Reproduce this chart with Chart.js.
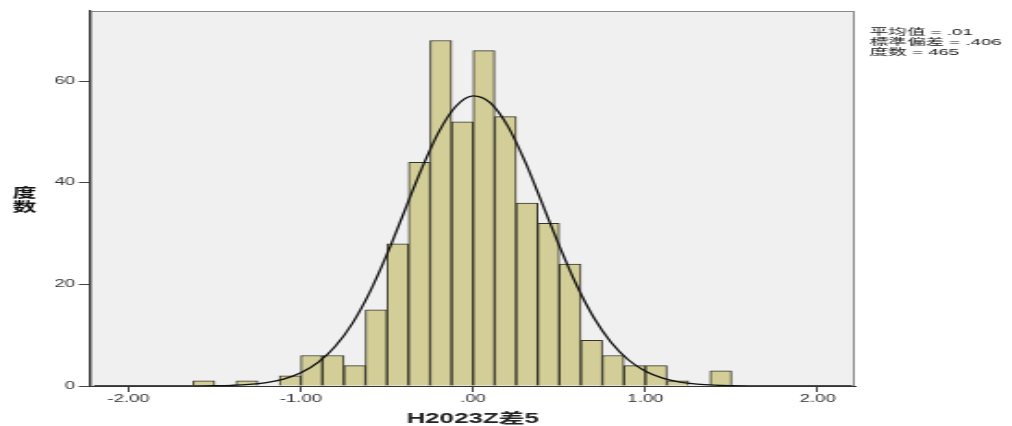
<!DOCTYPE html>
<html>
<head>
<meta charset="utf-8">
<script src="https://cdn.jsdelivr.net/npm/chart.js@4"></script>
<style>
  html, body { margin: 0; padding: 0; background: #fff; overflow: hidden; }
  /* the reference image is stretched sideways, so the canvas is too */
  #wrap { width: 547px; height: 426px; transform: scaleX(1.8501); transform-origin: 0 0; }
</style>
</head>
<body>
<div id="wrap">
  <canvas id="histChart" width="547" height="426" style="width:547px;height:426px"></canvas>
</div>
<script>
// histogram bins (centres, width .125) and their counts
var binCenters = [-1.5625, -1.4375, -1.3125, -1.1875, -1.0625, -0.9375, -0.8125, -0.6875,
  -0.5625, -0.4375, -0.3125, -0.1875, -0.0625, 0.0625, 0.1875, 0.3125, 0.4375, 0.5625,
  0.6875, 0.8125, 0.9375, 1.0625, 1.1875, 1.3125, 1.4375];
var counts = [1, 0, 1, 0, 2, 6, 6, 4, 15, 28, 44, 68, 52, 66, 53, 36, 32, 24, 9, 6, 4, 4, 1, 0, 3];

// normal curve as drawn over the bars
var curveX = [-2.2, -2.0, -1.8, -1.6, -1.5, -1.4, -1.3, -1.2, -1.1, -1.0, -0.9, -0.8, -0.7,
  -0.6, -0.5, -0.4, -0.3, -0.2, -0.1, 0.0, 0.1, 0.2, 0.3, 0.4, 0.5, 0.6, 0.7, 0.8, 0.9,
  1.0, 1.1, 1.2, 1.3, 1.4, 1.5, 1.6, 1.8, 2.0, 2.2];
var curveY = [0, 0, 0, 0.02, 0.06, 0.14, 0.31, 0.67, 1.36, 2.59, 4.63, 7.81, 12.38,
  18.47, 25.94, 34.29, 42.67, 49.96, 55.05, 57.09, 55.72, 51.19, 44.25, 36.0, 27.57, 19.87,
  13.47, 8.6, 5.17, 2.92, 1.55, 0.78, 0.37, 0.16, 0.07, 0.03, 0, 0, 0];

var xTicks = [-2, -1, 0, 1, 2];
var yTicks = [0, 20, 40, 60];
var statLines = ["平均值 = .01", "標準偏差 = .406", "度数 = 465"];
var yTitle = ["度", "数"];
var xTitle = "H2023Z差5";

var latin = '"Liberation Sans", Arial, "Noto Sans CJK SC", sans-serif';

var frame = {
  id: "frame",
  beforeDraw: function (chart) {
    var a = chart.chartArea, c = chart.ctx;
    c.save();
    c.fillStyle = "#f0f0f0";
    c.fillRect(a.left, a.top, a.right - a.left, a.bottom - a.top);
    c.strokeStyle = "#8a8a8a";
    c.lineWidth = 1;
    c.strokeRect(a.left, a.top + 0.5, a.right - a.left - 0.5, a.bottom - a.top);
    c.restore();
  },
  afterDraw: function (chart) {
    var c = chart.ctx;
    c.save();
    c.fillStyle = "#111";
    c.textBaseline = "middle";
    c.translate(470, 0);
    c.scale(1.12, 1);
    c.font = '9px "Liberation Sans", Arial, "Noto Sans CJK SC", sans-serif';
    statLines.forEach(function (t, i) {
      c.fillText(t, 0, 33 + i * 9.8);
    });
    c.restore();
    c.save();
    c.fillStyle = "#111";
    c.textBaseline = "middle";
    c.font = 'bold 13px "Noto Sans CJK SC", sans-serif';
    c.textAlign = "center";
    yTitle.forEach(function (t, i) {
      c.fillText(t, 13.3, 192 + i * 14);
    });
    c.restore();
  }
};

var ctx = document.getElementById("histChart").getContext("2d");
var histChart = new Chart(ctx, {
  type: "bar",
  data: {
    datasets: [
      {
        type: "line",
        data: curveX.map((x, i) => ({ x: x, y: curveY[i] })),
        borderColor: "#111",
        borderWidth: 1.3,
        pointRadius: 0,
        cubicInterpolationMode: "monotone",
        order: 0,
      },
      {
        data: binCenters.map((x, i) => ({ x: x, y: counts[i] || null })),
        backgroundColor: "#d3ce97",
        borderColor: "#35342a",
        borderWidth: 1,
        barPercentage: 1,
        categoryPercentage: 1,
        order: 1,
      },
    ],
  },
  options: {
    responsive: false,
    animation: false,
    layout: { padding: { top: 11, right: 85, bottom: 0, left: 0 } },
    plugins: { legend: { display: false }, tooltip: { enabled: false } },
    scales: {
      x: {
        type: "linear",
        offset: false,
        min: -2.22,
        max: 2.215,
        afterBuildTicks: (s) => { s.ticks = xTicks.map((v) => ({ value: v })); },
        afterFit: (s) => { s.height = 40; },
        grid: { offset: false, drawOnChartArea: false, tickLength: 6, color: "#444" },
        border: { color: "#333", width: 1 },
        ticks: {
          padding: 1,
          color: "#333",
          font: { family: latin, size: 10 },
          callback: (v) => (v === 0 ? ".00" : v.toFixed(2)),
        },
        title: {
          display: true,
          text: xTitle,
          color: "#222",
          padding: 0,
          font: { family: latin, size: 14, weight: "bold", lineHeight: 1 },
        },
      },
      y: {
        min: 0,
        max: 73.8,
        afterBuildTicks: (s) => { s.ticks = yTicks.map((v) => ({ value: v })); },
        afterFit: (s) => { s.width = 49; },
        grid: { drawOnChartArea: false, tickLength: 6.5, color: "#444" },
        border: { color: "#333", width: 1.2 },
        ticks: { padding: 2, color: "#333", font: { family: latin, size: 10 } },
      },
    },
  },
  plugins: [frame],
});
</script>
</body>
</html>
